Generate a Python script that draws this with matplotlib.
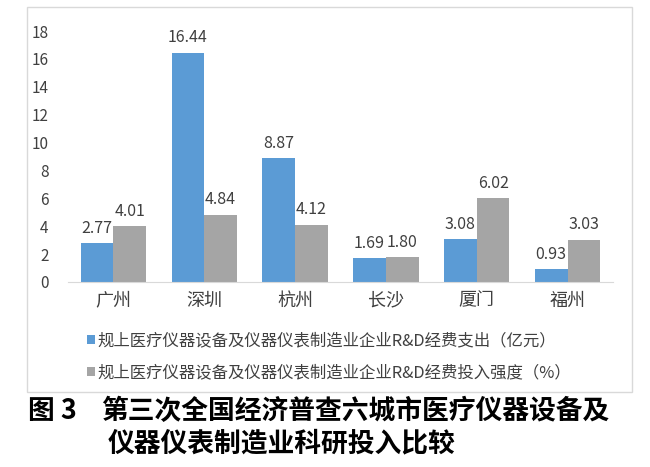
import matplotlib.pyplot as plt
from matplotlib.patches import Rectangle
import numpy as np

plt.rcParams['font.family'] = ['Noto Sans CJK SC', 'DejaVu Sans']

cities = ['广州', '深圳', '杭州', '长沙', '厦门', '福州']
spend = [2.77, 16.44, 8.87, 1.69, 3.08, 0.93]
intensity = [4.01, 4.84, 4.12, 1.80, 6.02, 3.03]
yticks = [0, 2, 4, 6, 8, 10, 12, 14, 16, 18]
label_spend = '规上医疗仪器设备及仪器仪表制造业企业R&D经费支出（亿元）'
label_int = '规上医疗仪器设备及仪器仪表制造业企业R&D经费投入强度（%）'
caption1 = '第三次全国经济普查六城市医疗仪器设备及'
caption2 = '仪器仪表制造业科研投入比较'

blue = '#5B9BD5'
gray = '#A5A5A5'

fig = plt.figure(figsize=(6.5, 4.67), dpi=100)
# outer chart frame
fig.patches.append(Rectangle((27 / 650, 1 - 392 / 467), 605 / 650, 385 / 467,
                             transform=fig.transFigure, fill=False,
                             edgecolor='#D9D9D9', linewidth=1))

ax = fig.add_axes([68 / 650, 1 - 282 / 467, 545 / 650, 251 / 467])
x = np.arange(len(cities))
w = 0.36
b1 = ax.bar(x - w / 2, spend, w, color=blue, label=label_spend)
b2 = ax.bar(x + w / 2, intensity, w, color=gray, label=label_int)

for rects, vals in ((b1, spend), (b2, intensity)):
    for r, v in zip(rects, vals):
        ax.text(r.get_x() + r.get_width() / 2, v + 0.45, f'{v:.2f}',
                ha='center', va='bottom', fontsize=11.5, color='#404040')

ax.set_xlim(-0.5, len(cities) - 0.5)
ax.set_ylim(0, 18)
ax.set_yticks(yticks)
ax.set_yticklabels([str(t) for t in yticks], fontsize=11, color='#404040')
ax.set_xticks(x)
ax.set_xticklabels(cities, fontsize=13, color='#404040')
ax.tick_params(axis='both', length=0)
ax.tick_params(axis='y', pad=14)
ax.tick_params(axis='x', pad=7)
for s in ('top', 'right', 'left'):
    ax.spines[s].set_visible(False)
ax.spines['bottom'].set_color('#D9D9D9')

fig.legend(handles=[b1, b2], loc='upper left', bbox_to_anchor=(87 / 650, 1 - 332 / 467),
           frameon=False, fontsize=11.8, handlelength=0.5, handleheight=0.5,
           handletextpad=0.15, labelspacing=0.95, borderaxespad=0, borderpad=0,
           labelcolor='#404040')

fig.text(28 / 650, 1 - 411 / 467, '图 3', fontsize=19.3, fontweight='bold', va='center')
fig.text(101 / 650, 1 - 411 / 467, caption1, fontsize=19.3, fontweight='bold', va='center')
fig.text(108 / 650, 1 - 443 / 467, caption2, fontsize=19.3, fontweight='bold', va='center')

fig.savefig('out.png', dpi=100)
